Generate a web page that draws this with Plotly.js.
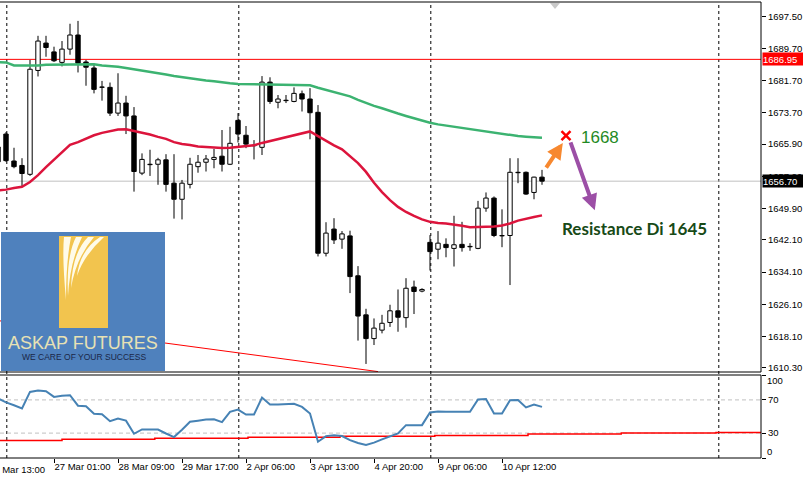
<!DOCTYPE html>
<html>
<head>
<meta charset="utf-8">
<script src="https://cdn.plot.ly/plotly-3.0.1.min.js"></script>
<style>
html,body{margin:0;padding:0;background:#fff;}
#chart{width:803px;height:477px;}
</style>
</head>
<body>
<div id="chart"></div>
<script>
// ---------- DATA (H4 bars, index 0..68) ----------
const open  = [1665.2,1668.4,1661.7,1660.6,1658.4,1684.2,1691.0,1688.8,1686.2,1689.5,1693.0,1686.3,1684.8,1680.0,1680.0,1673.6,1676.1,1672.9,1658.7,1660.9,1660.9,1662.0,1656.2,1652.2,1655.9,1660.3,1661.4,1662.1,1662.9,1660.9,1671.8,1668.1,1665.6,1665.1,1681.3,1676.3,1676.8,1676.5,1678.4,1677.1,1673.8,1638.8,1644.8,1642.3,1643.1,1633.2,1623.5,1617.6,1619.7,1621.6,1624.5,1622.8,1630.4,1629.4,1641.5,1639.8,1641.0,1640.0,1641.0,1640.5,1640.0,1650.0,1652.5,1643.1,1643.2,1658.9,1658.9,1653.9,1657.7];
const high  = [1666.9,1668.9,1665.0,1662.4,1686.8,1692.8,1692.8,1690.1,1691.5,1695.8,1696.5,1686.8,1685.6,1681.6,1681.2,1683.5,1677.9,1675.1,1663.6,1664.5,1662.5,1663.4,1663.4,1657.0,1662.5,1663.2,1663.2,1664.7,1669.4,1670.2,1673.6,1670.4,1666.9,1682.8,1682.5,1678.1,1678.1,1680.0,1679.2,1679.8,1675.6,1646.5,1647.5,1644.3,1644.4,1635.6,1625.0,1622.6,1623.5,1626.0,1629.8,1632.6,1632.0,1630.1,1643.3,1644.3,1642.5,1648.1,1646.6,1641.3,1651.8,1653.9,1652.9,1649.7,1662.4,1662.4,1659.1,1657.8,1659.5];
const low   = [1660.7,1661.5,1659.9,1655.3,1658.0,1682.7,1687.6,1686.3,1685.2,1688.1,1683.7,1680.4,1678.5,1676.7,1672.9,1672.9,1668.4,1654.1,1658.2,1658.0,1655.8,1654.1,1647.4,1647.2,1654.9,1658.8,1659.1,1659.9,1659.1,1660.7,1666.3,1664.9,1662.1,1663.2,1675.9,1674.8,1676.1,1676.3,1674.0,1667.1,1638.0,1638.0,1641.1,1639.9,1628.9,1617.1,1611.3,1616.0,1618.9,1620.5,1619.3,1620.3,1623.7,1629.1,1634.5,1637.3,1637.8,1635.5,1639.2,1639.4,1639.8,1649.1,1642.8,1640.3,1630.9,1656.2,1653.3,1652.2,1655.8];
const close = [1661.5,1661.8,1660.3,1658.6,1684.5,1691.5,1689.9,1686.6,1689.5,1693.0,1686.0,1685.0,1679.5,1680.1,1673.6,1676.1,1672.9,1659.1,1662.1,1660.8,1662.0,1655.9,1652.2,1656.2,1660.9,1661.4,1662.2,1662.6,1660.9,1666.1,1668.4,1665.9,1665.5,1681.3,1676.5,1677.1,1676.7,1678.5,1677.1,1673.7,1638.8,1643.8,1642.1,1643.6,1633.0,1623.2,1617.6,1620.2,1621.4,1624.5,1622.9,1630.1,1629.3,1629.8,1639.2,1641.3,1640.2,1640.9,1640.2,1640.4,1650.0,1652.5,1643.2,1643.2,1658.9,1658.8,1653.5,1657.7,1656.7];

const maSlow = [1686.25,1686.2,1685.45,1685.4,1685.4,1685.4,1685.6,1685.65,1685.65,1685.65,1685.65,1685.75,1685.75,1685.45,1685.3,1685.1,1684.8,1684.5,1684.2,1683.9,1683.6,1683.2,1682.8,1682.5,1682.2,1682.0,1681.7,1681.5,1681.2,1681.0,1680.85,1680.8,1680.7,1680.7,1680.6,1680.6,1680.5,1680.5,1680.5,1680.5,1679.9,1679.4,1678.9,1678.4,1677.75,1676.9,1676.1,1675.4,1674.8,1674.1,1673.5,1672.9,1672.3,1671.7,1671.2,1670.8,1670.5,1670.3,1670.05,1669.75,1669.35,1669.0,1668.7,1668.4,1668.2,1667.9,1667.75,1667.6,1667.5];
const maFast = [1654.4,1654.6,1655.0,1655.3,1656.5,1658.2,1660.2,1662.0,1664.0,1665.7,1666.4,1667.2,1668.1,1668.7,1669.2,1669.55,1669.6,1669.2,1668.7,1668.3,1667.7,1667.2,1666.4,1665.95,1665.7,1665.3,1665.2,1665.0,1664.95,1665.0,1665.2,1665.4,1665.6,1666.2,1666.7,1667.2,1667.6,1668.1,1668.6,1669.05,1667.9,1666.7,1665.6,1664.6,1663.0,1661.2,1659.0,1656.3,1654.0,1652.0,1650.3,1649.05,1648.05,1647.2,1646.6,1646.3,1646.2,1645.95,1645.6,1645.25,1645.3,1645.3,1645.45,1645.7,1646.2,1646.9,1647.4,1647.8,1648.2];

const rsi = [72,67,63.5,59.8,79.6,81.2,80.5,73.6,75,75.6,63,62.4,53.2,52.8,44.4,47.6,45,29.2,34.4,34.4,34.2,29.5,25.2,34,43.6,45,46.4,46.6,43.2,55.6,58.4,52.4,52.4,72.8,64.4,64.4,65.2,65.4,61.6,53.6,19.6,26.4,27.5,26.4,21.5,18,15.6,18.5,22.4,26,29.6,39.6,39.6,39.6,54.8,56,55.6,55.6,55.6,55.6,70.4,71,53.6,53.6,69.6,70,61,64.4,61.6];

// higher-timeframe signal line (step)
const sigX = [0, 8, 19.6, 31.25, 42.75, 54.6, 66.25, 77.9, 89.75, 96];
const sigY = [21.2, 22.7, 23.9, 25.1, 26.1, 27.2, 29.0, 30.0, 30.8, 30.8];

// trendline
const trendX = [0.25, 47.5];
const trendY = [1622.0, 1609.4];

// levels
const resistanceLine = 1686.95;
const lastPrice = 1656.70;
const rsiLevels = [70, 30];

// tick labels
const xTickIdx = [7, 15, 23, 31, 39, 47, 55, 63];
const xTickText = ['27 Mar 01:00','28 Mar 09:00','29 Mar 17:00','2 Apr 06:00','3 Apr 13:00','4 Apr 20:00','9 Apr 06:00','10 Apr 12:00'];
const partialTickIdx = -1.3;
const partialTickText = '26 Mar 13:00';
const priceTicks = [1697.5,1689.7,1681.7,1673.7,1665.9,1657.9,1649.9,1642.1,1634.1,1626.1,1618.1,1610.3];
const rsiTicks = [100, 70, 30, 0];

// period separators (bar index)
const separators = [1.1, 30.1, 54.1, 90.1];

// analyst annotation
const targetBar = 71, targetPrice = 1668;
const orangeFrom = [68.4, 1659.7], orangeTo = [70.6, 1666.2];
const purpleFrom = [71.5, 1666.7], purpleTo = [74.6, 1649.5];

// ---------- GEOMETRY ----------
const W = 803, H = 477;
const ML = 0, MR = 42, MT = 2, MB = 19;
const PW = W - ML - MR, PH = H - MT - MB;
const xRange = [0.25, 95.375];
const mainDomain = [(458 - 372) / PH, 1];
const indDomain = [0, (458 - 375) / PH];
const px = x => (x - ML) / PW;
const py = y => (458 - y) / PH;

const idx = open.map((_, i) => i);

// candles built from OHLC arrays: wicks split above / below body
const wickX = [], wickY = [];
idx.forEach(i => {
  const top = Math.max(open[i], close[i]), bot = Math.min(open[i], close[i]);
  if (high[i] > top) { wickX.push(i, i, null); wickY.push(top, high[i], null); }
  if (low[i] < bot)  { wickX.push(i, i, null); wickY.push(low[i], bot, null); }
});
const upI = idx.filter(i => close[i] >= open[i]);
const dnI = idx.filter(i => close[i] < open[i]);
const bodyTrace = (ids, fill) => ({
  type:'bar', x: ids, base: ids.map(i => Math.min(open[i], close[i])),
  y: ids.map(i => Math.abs(close[i] - open[i])), width: 0.55,
  xaxis:'x', yaxis:'y', marker:{color: fill, opacity:1, line:{color:'#000', width:1}}, hoverinfo:'skip'
});

const traces = [
  bodyTrace(upI, '#ffffff'),
  bodyTrace(dnI, '#000000'),
  { type:'scatter', mode:'lines', x: wickX, y: wickY, xaxis:'x', yaxis:'y',
    line:{color:'#000', width:1}, hoverinfo:'skip', connectgaps:false },
  { type:'scatter', mode:'lines', x: trendX, y: trendY, xaxis:'x', yaxis:'y',
    line:{color:'#ff0000', width:1}, hoverinfo:'skip' },
  { type:'scatter', mode:'lines', x: idx, y: maSlow, xaxis:'x', yaxis:'y',
    line:{color:'#3cb371', width:2.5}, hoverinfo:'skip' },
  { type:'scatter', mode:'lines', x: idx, y: maFast, xaxis:'x', yaxis:'y',
    line:{color:'#dc143c', width:2.5}, hoverinfo:'skip' },
  { type:'scatter', mode:'markers', x:[targetBar], y:[targetPrice], xaxis:'x', yaxis:'y',
    marker:{symbol:'x-thin', size:9, line:{color:'#ff0000', width:2.5}}, hoverinfo:'skip' },
  { type:'scatter', mode:'lines', x: sigX, y: sigY, xaxis:'x', yaxis:'y2',
    line:{color:'#ff0000', width:1.5, shape:'hv'}, hoverinfo:'skip' },
  { type:'scatter', mode:'lines', x: idx, y: rsi, xaxis:'x', yaxis:'y2',
    line:{color:'#4682b4', width:2}, hoverinfo:'skip' }
];

const shapes = [];
separators.forEach(s => shapes.push({type:'line', xref:'x', yref:'paper', x0:s, x1:s, y0:0, y1:1,
  line:{color:'#000', width:1, dash:'3px,3px'}, layer:'below'}));
shapes.push({type:'line', xref:'paper', yref:'y', x0:0, x1:1, y0:resistanceLine, y1:resistanceLine, line:{color:'#ff0000', width:1}, layer:'below'});
shapes.push({type:'line', xref:'paper', yref:'y', x0:0, x1:1, y0:lastPrice, y1:lastPrice, line:{color:'#c0c0c0', width:1}, layer:'below'});
rsiLevels.forEach(l => shapes.push({type:'line', xref:'paper', yref:'y2', x0:0, x1:1, y0:l, y1:l,
  line:{color:'#c0c0c0', width:1, dash:'4px,3px'}, layer:'below'}));
shapes.push({type:'rect', xref:'paper', yref:'y domain', x0:-0.01, x1:1, y0:0, y1:1, line:{color:'#000', width:1}});
shapes.push({type:'rect', xref:'paper', yref:'y2 domain', x0:-0.01, x1:1, y0:0, y1:1, line:{color:'#000', width:1}});
shapes.push({type:'path', xref:'paper', yref:'paper', layer:'above',
  path:`M ${px(550)} ${py(3)} L ${px(560)} ${py(3)} L ${px(555)} ${py(9)} Z`,
  fillcolor:'#c8c8c8', line:{width:0}});
// logo
shapes.push({type:'rect', xref:'paper', yref:'paper', layer:'above',
  x0:px(1), x1:px(165), y0:py(371), y1:py(232), fillcolor:'#4f81bd', line:{width:0}});
shapes.push({type:'rect', xref:'paper', yref:'paper', layer:'above',
  x0:px(59), x1:px(108), y0:py(328), y1:py(236), fillcolor:'#f2c44e', line:{width:0}});
const streak = (tl, tr, cx, cy, bx, by) =>
  `M ${px(tl)} ${py(237)} L ${px(tr)} ${py(237)} Q ${px(cx)} ${py(cy)} ${px(bx)} ${py(by)} Q ${px(cx-4)} ${py(cy-5)} ${px(tl)} ${py(237)} Z`;
[[64,71,66,262,66,300],[76,82,70,262,68,296],[88,94,76,258,71,288],[100,104,84,255,77,276]].forEach(s =>
  shapes.push({type:'path', xref:'paper', yref:'paper', layer:'above', path: streak(...s),
    fillcolor:'#fffbe8', line:{width:0}}));

const annotations = [
  {xref:'paper', yref:'paper', x:(partialTickIdx - xRange[0])/(xRange[1]-xRange[0]), y:0, xanchor:'left', yanchor:'top',
   xshift:-1, yshift:-4, text:partialTickText, showarrow:false, font:{size:9.5, color:'#000'}},
  {xref:'paper', yref:'y2', x:1, y:rsiTicks[0], xanchor:'left', yanchor:'middle', xshift:4, yshift:-6,
   text:String(rsiTicks[0]), showarrow:false, font:{size:9.5, color:'#000'}},
  {xref:'paper', yref:'y2', x:1, y:rsiTicks[3], xanchor:'left', yanchor:'middle', xshift:4, yshift:6,
   text:String(rsiTicks[3]), showarrow:false, font:{size:9.5, color:'#000'}},
  {xref:'paper', yref:'y', x:1, y:resistanceLine, xanchor:'left', yanchor:'middle', xshift:1,
   text:resistanceLine.toFixed(2), showarrow:false, bgcolor:'#ff0000', font:{size:9.5, color:'#fff'},
   width:40, height:12, align:'left', borderpad:0},
  {xref:'paper', yref:'y', x:1, y:lastPrice, xanchor:'left', yanchor:'middle', xshift:1,
   text:lastPrice.toFixed(2), showarrow:false, bgcolor:'#000000', font:{size:9.5, color:'#fff'},
   width:40, height:12, align:'left', borderpad:0},
  {xref:'x', yref:'y', axref:'x', ayref:'y', x:orangeTo[0], y:orangeTo[1], ax:orangeFrom[0], ay:orangeFrom[1],
   showarrow:true, arrowhead:2, arrowsize:0.8, arrowwidth:4, arrowcolor:'#f7882f', text:''},
  {xref:'x', yref:'y', axref:'x', ayref:'y', x:purpleTo[0], y:purpleTo[1], ax:purpleFrom[0], ay:purpleFrom[1],
   showarrow:true, arrowhead:2, arrowsize:0.8, arrowwidth:4, arrowcolor:'#9c4fa6', text:''},
  {xref:'paper', yref:'paper', x:px(579), y:py(137), xanchor:'left', yanchor:'middle', showarrow:false,
   text:String(targetPrice), font:{family:'Liberation Sans, Arial, sans-serif', size:17, color:'#1f8a24'}},
  {xref:'paper', yref:'paper', x:px(560), y:py(228), xanchor:'left', yanchor:'middle', showarrow:false,
   text:'<b>Resistance Di 1645</b>', font:{family:'Lato, sans-serif', size:17, color:'#174a17'}},
  {xref:'paper', yref:'paper', x:px(83), y:py(343), xanchor:'center', yanchor:'middle', showarrow:false,
   text:'ASKAP FUTURES', font:{family:'Liberation Sans, Arial, sans-serif', size:18, color:'#e8e2b4'}},
  {xref:'paper', yref:'paper', x:px(84), y:py(357), xanchor:'center', yanchor:'middle', showarrow:false,
   text:'WE CARE OF YOUR SUCCESS', font:{family:'Liberation Sans, Arial, sans-serif', size:8.5, color:'#1b2747'}}
];

const layout = {
  width: W, height: H,
  margin:{l:ML, r:MR, t:MT, b:MB, pad:0},
  paper_bgcolor:'#ffffff', plot_bgcolor:'#ffffff',
  showlegend:false, barmode:'overlay',
  font:{family:'Liberation Sans, Arial, sans-serif', size:9.5, color:'#000'},
  xaxis:{
    anchor:'y2', domain:[0,1], range:xRange, type:'linear',
    tickmode:'array', tickvals:xTickIdx, ticktext:xTickText,
    ticklabelposition:'outside right', tickangle:0,
    ticks:'outside', ticklen:4, tickcolor:'#000', tickwidth:1,
    showgrid:false, zeroline:false, showline:false,
    tickfont:{size:9.5, color:'#000'}
  },
  yaxis:{
    domain:mainDomain, range:[1609.3, 1701.2], side:'right', anchor:'x',
    tickmode:'array', tickvals:priceTicks, ticktext:priceTicks.map(v => v.toFixed(2)),
    ticks:'outside', ticklen:4, tickcolor:'#000',
    showgrid:false, zeroline:false, showline:false,
    tickfont:{size:9.5, color:'#000'}
  },
  yaxis2:{
    domain:indDomain, range:[0,100], side:'right', anchor:'x',
    tickmode:'array', tickvals:rsiTicks, ticktext:rsiTicks.map((v, k) => (k === 0 || k === rsiTicks.length - 1) ? '' : String(v)),
    ticks:'outside', ticklen:4, tickcolor:'#000',
    showgrid:false, zeroline:false, showline:false,
    tickfont:{size:9.5, color:'#000'}
  },
  shapes, annotations
};

Plotly.newPlot('chart', traces, layout, {displayModeBar:false, staticPlot:true});
</script>
</body>
</html>
